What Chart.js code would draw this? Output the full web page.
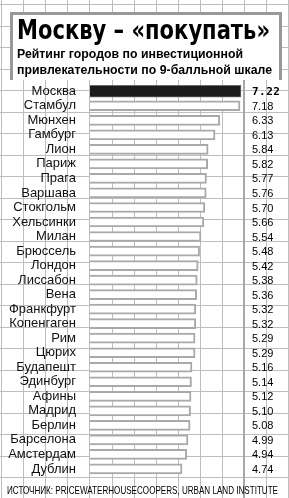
<!DOCTYPE html>
<html>
<head>
<meta charset="utf-8">
<script src="https://cdn.jsdelivr.net/npm/chart.js@4"></script>
<style>
  html, body { margin: 0; padding: 0; background: #fff; }
  .wrap { width: 289px; height: 498px; position: relative; }
</style>
</head>
<body>
<div class="wrap"><canvas class="rating-chart"></canvas></div>
<script>
const cities = ['Москва', 'Стамбул', 'Мюнхен', 'Гамбург', 'Лион', 'Париж', 'Прага', 'Варшава',
    'Стокгольм', 'Хельсинки', 'Милан', 'Брюссель', 'Лондон', 'Лиссабон', 'Вена', 'Франкфурт',
    'Копенгаген', 'Рим', 'Цюрих', 'Будапешт', 'Эдинбург', 'Афины', 'Мадрид', 'Берлин',
    'Барселона', 'Амстердам', 'Дублин'];
const scores = [7.22, 7.18, 6.33, 6.13, 5.84, 5.82, 5.77, 5.76, 5.70, 5.66, 5.54, 5.48, 5.42,
    5.38, 5.36, 5.32, 5.32, 5.29, 5.29, 5.16, 5.14, 5.12, 5.10, 5.08, 4.99, 4.94, 4.74];
const titleText = 'Москву – «покупать»';
const subtitleLines = ['Рейтинг городов по инвестиционной', 'привлекательности по 9-балльной шкале'];
const sourceText = 'ИСТОЧНИК: PRICEWATERHOUSECOOPERS, URBAN LAND INSTITUTE';

// Moscow gets its own dataset so its bar can be black and thicker
const moscowData = scores.map((v, i) => i === 0 ? v : null);
const otherData = scores.map((v, i) => i === 0 ? null : v);

const ctx = document.querySelector('.rating-chart').getContext('2d');

// graph paper background + header box
const paperPlugin = {
    id: 'paper',
    beforeDraw(chart) {
        const c = chart.ctx;
        const w = chart.width, h = chart.height;
        c.save();
        c.fillStyle = '#fff';
        c.fillRect(0, 0, w, h);
        c.strokeStyle = '#bdbdbd';
        c.lineWidth = 1;
        for (let x = 1; x < w + 1; x += 22.1) {
            const px = Math.round(x) + 0.5;
            c.beginPath();
            c.moveTo(px, 0);
            c.lineTo(px, h);
            c.stroke();
        }
        for (let y = 4; y < h; y += 21.5) {
            const py = Math.round(y) + 0.5;
            c.beginPath();
            c.moveTo(0, py);
            c.lineTo(w, py);
            c.stroke();
        }
        // heavier line next to values
        c.strokeStyle = '#a8a8a8';
        c.lineWidth = 2;
        c.beginPath();
        c.moveTo(244, 80);
        c.lineTo(244, h);
        c.stroke();

        // header box
        c.fillStyle = '#fff';
        c.fillRect(10, 12, 272, 68);
        c.strokeStyle = '#999';
        c.lineWidth = 3;
        c.beginPath();
        c.moveTo(11.5, 80);
        c.lineTo(11.5, 13.5);
        c.lineTo(280.5, 13.5);
        c.lineTo(280.5, 80);
        c.stroke();

        c.fillStyle = '#000';
        c.textBaseline = 'alphabetic';
        c.textAlign = 'left';
        c.font = 'bold 26px "DejaVu Sans"';
        c.fillText(titleText, 17, 39, 253);
        c.font = 'bold 12.5px "Liberation Sans"';
        c.fillText(subtitleLines[0], 17, 57.5, 226);
        c.fillText(subtitleLines[1], 17, 73.5, 255);

        c.font = '11px "Liberation Sans"';
        c.fillText(sourceText, 7, 494, 271);
        c.restore();
    }
};

// score labels to the right of the bars
const valuePlugin = {
    id: 'values',
    afterDatasetsDraw(chart) {
        const c = chart.ctx;
        c.save();
        c.fillStyle = '#000';
        c.textAlign = 'left';
        c.textBaseline = 'middle';
        chart.data.datasets.forEach((ds, di) => {
            const meta = chart.getDatasetMeta(di);
            meta.data.forEach((bar, i) => {
                if (ds.data[i] === null) return;
                if (i === 0) {
                    c.font = 'bold 11px "DejaVu Sans Mono"';
                    c.letterSpacing = '0.5px';
                } else {
                    c.font = '11px "Liberation Sans"';
                    c.letterSpacing = '0px';
                }
                c.fillText(ds.data[i].toFixed(2), 252, bar.y + 1);
            });
        });
        c.restore();
    }
};

const ratingChart = new Chart(ctx, {
    type: 'bar',
    data: {
        labels: cities,
        datasets: [{
            data: moscowData,
            backgroundColor: '#1c1c1c',
            borderColor: '#6a6a6a',
            borderWidth: 1,
            borderSkipped: false,
            barThickness: 12,
            grouped: false,
        }, {
            data: otherData,
            backgroundColor: '#fff',
            borderColor: '#a9a9a9',
            borderWidth: 2,
            borderSkipped: false,
            barThickness: 10,
            grouped: false,
        }]
    },
    options: {
        indexAxis: 'y',
        responsive: true,
        maintainAspectRatio: false,
        animation: false,
        layout: {
            padding: { top: 84, bottom: 20, left: 0, right: 39 }
        },
        plugins: {
            legend: { display: false },
            tooltip: { enabled: false }
        },
        scales: {
            x: {
                type: 'linear',
                display: false,
                min: 0.87,
                max: 7.6,
                beginAtZero: false,
            },
            y: {
                grid: { display: false, drawTicks: false },
                border: { display: false },
                afterFit(axis) {
                    axis.width = 90;
                },
                ticks: {
                    color: '#111',
                    padding: 14,
                    font: { family: 'Liberation Sans', size: 13 },
                    autoSkip: false,
                }
            }
        }
    },
    plugins: [paperPlugin, valuePlugin]
});
</script>
</body>
</html>
